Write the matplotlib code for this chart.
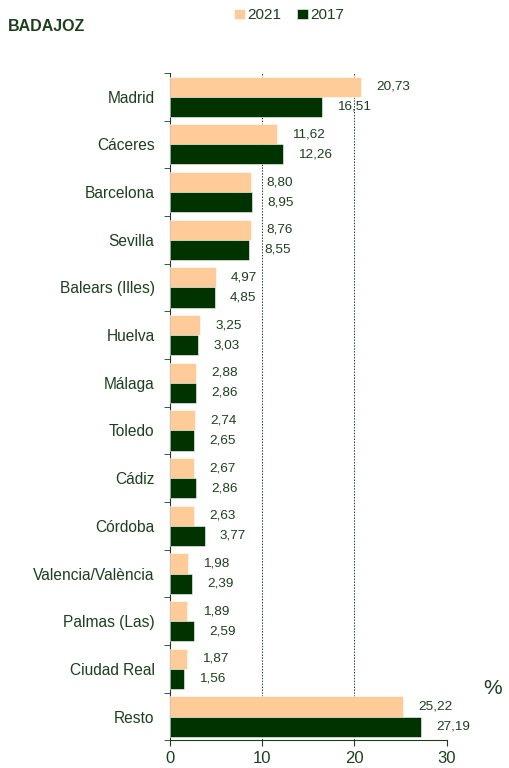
import numpy as np
import matplotlib
matplotlib.use("Agg")
import matplotlib.pyplot as plt

plt.rcParams['font.family'] = ['Liberation Sans', 'DejaVu Sans']

provincias = ["Madrid", "Cáceres", "Barcelona", "Sevilla", "Balears (Illes)", "Huelva",
              "Málaga", "Toledo", "Cádiz", "Córdoba", "Valencia/València",
              "Palmas (Las)", "Ciudad Real", "Resto"]
valores_2021 = [20.73, 11.62, 8.80, 8.76, 4.97, 3.25, 2.88, 2.74, 2.67, 2.63, 1.98, 1.89, 1.87, 25.22]
valores_2017 = [16.51, 12.26, 8.95, 8.55, 4.85, 3.03, 2.86, 2.65, 2.86, 3.77, 2.39, 2.59, 1.56, 27.19]

color_2021 = '#FFCC99'
color_2017 = '#003300'
texto = '#1E3F1E'

fig = plt.figure(figsize=(5.1, 7.68), dpi=100)
ax = fig.add_axes([0.333, 0.036, 0.543, 0.869])

y = np.arange(len(provincias))
alto = 0.42
ax.barh(y - alto / 2, valores_2021, height=alto, color=color_2021, edgecolor='white', linewidth=0.4, label='2021', zorder=3)
ax.barh(y + alto / 2, valores_2017, height=alto, color=color_2017, edgecolor='white', linewidth=0.4, label='2017', zorder=3)

# etiquetas de valores
for i in range(len(provincias)):
    ax.annotate(f"{valores_2021[i]:.2f}".replace('.', ','), (valores_2021[i], y[i] - alto / 2),
                xytext=(11, 0), textcoords='offset points', va='center', ha='left',
                fontsize=9.7, color=texto, zorder=4)
    ax.annotate(f"{valores_2017[i]:.2f}".replace('.', ','), (valores_2017[i], y[i] + alto / 2),
                xytext=(11, 0), textcoords='offset points', va='center', ha='left',
                fontsize=9.7, color=texto, zorder=4)

ax.set_ylim(len(provincias) - 0.5, -0.5)
ax.set_xlim(0, 30)
ax.set_xticks([0, 10, 20, 30])
ax.set_yticks(y)
ax.set_yticklabels(provincias, fontsize=11.2, color=texto)
ax.set_yticks(np.arange(-0.5, len(provincias), 1), minor=True)
ax.tick_params(axis='y', which='major', length=0, pad=11)
ax.tick_params(axis='y', which='minor', length=4, color=texto)
ax.tick_params(axis='x', labelsize=12, colors=texto, length=4)

ax.spines['top'].set_visible(False)
ax.spines['right'].set_visible(False)
ax.spines['left'].set_color(texto)
ax.spines['bottom'].set_color(texto)

for xv in [10, 20]:
    ax.axvline(xv, color=texto, linestyle=(0, (1.5, 1.5)), linewidth=0.7, zorder=1)

fig.text(0.016, 0.966, "BADAJOZ", fontsize=11.5, fontweight='bold', color=texto, va='center', ha='left')
fig.text(0.985, 0.104, "%", fontsize=15, color=texto, va='center', ha='right')

fig.legend(loc='center', bbox_to_anchor=(0.567, 0.98), ncol=2, frameon=False, fontsize=11,
           handlelength=0.7, handleheight=0.7, handletextpad=0.2, columnspacing=1.0,
           labelcolor=texto)

fig.savefig("out.png", dpi=100)
